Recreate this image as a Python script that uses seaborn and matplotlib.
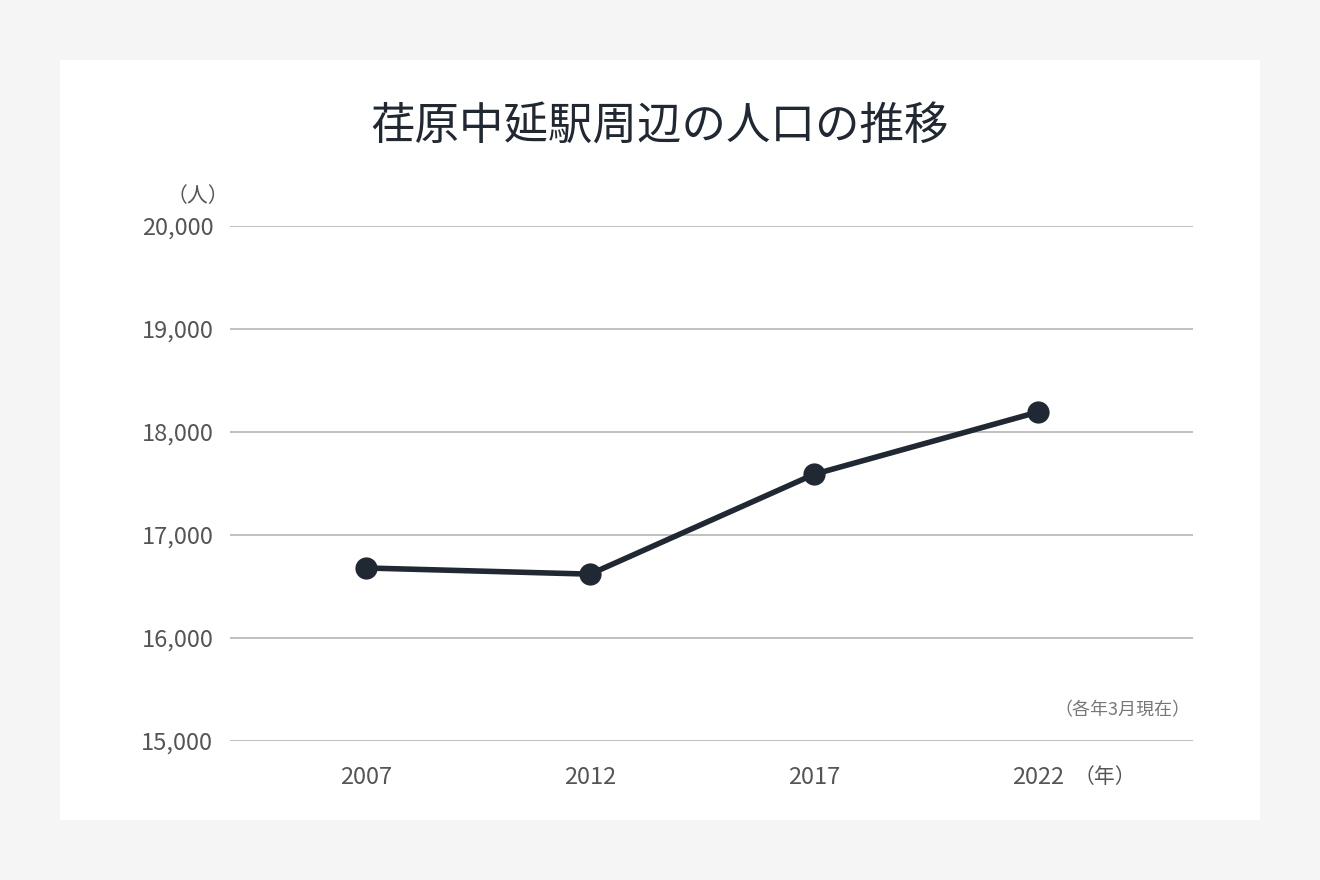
import matplotlib
matplotlib.use("Agg")
import matplotlib.pyplot as plt
import seaborn as sns
import pandas as pd

years = ["2007", "2012", "2017", "2022"]
population = [16680, 16620, 17590, 18195]
yticks = [15000, 16000, 17000, 18000, 19000, 20000]

sns.set_theme(style="white")
plt.rcParams['font.family'] = ['Noto Sans CJK JP', 'DejaVu Sans']

dark = "#1f2833"
grey = "#555555"
fig = plt.figure(figsize=(13.2, 8.8), dpi=100, facecolor="#f5f5f5")
bg = fig.add_axes([60/1320, 60/880, 1200/1320, 760/880], zorder=-1)
bg.set_facecolor("white")
bg.set_xticks([]); bg.set_yticks([])
for s in bg.spines.values():
    s.set_visible(False)

ax = fig.add_axes([230/1320, 139/880, 963/1320, 515/880], zorder=1)
ax.set_facecolor("none")

df = pd.DataFrame({"x": range(len(years)), "pop": population})
sns.lineplot(data=df, x="x", y="pop", ax=ax, color=dark, linewidth=4,
             marker="o", markersize=16, markeredgewidth=0, zorder=3)

ax.set_xlim(-0.607, 3.69)
ax.set_ylim(15000, 20000)
ax.set_yticks(yticks)
ax.set_yticklabels([f"{v:,}" for v in yticks], fontsize=17, color=grey)
ax.set_xticks(range(len(years)))
ax.set_xticklabels(years, fontsize=17, color=grey)
ax.tick_params(axis="both", length=0, pad=12)
ax.tick_params(axis="x", pad=18)
for v in yticks:
    ax.axhline(v, color="#b5b5b5", linewidth=1.2, zorder=1)
for s in ax.spines.values():
    s.set_visible(False)
ax.set_xlabel("")
ax.set_ylabel("")

fig.text(660/1320, 1 - 127/880, "荏原中延駅周辺の人口の推移", ha="center", va="center",
         fontsize=32, color=dark)
fig.text(198/1320, 1 - 196/880, "（人）", ha="center", va="center", fontsize=15, color=grey)
fig.text(1105/1320, 1 - 777/880, "（年）", ha="center", va="center", fontsize=15, color=grey)
fig.text(1190/1320, 1 - 710/880, "（各年3月現在）", ha="right", va="center", fontsize=13, color="#777777")

fig.savefig("out.png", dpi=100, facecolor=fig.get_facecolor())
